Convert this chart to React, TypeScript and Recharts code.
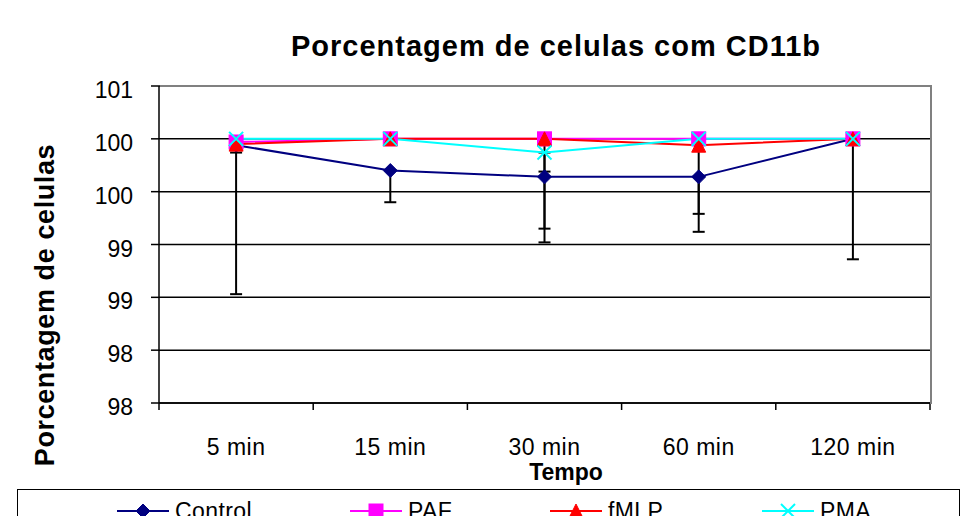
import React from 'react';
import { LineChart, Line, XAxis, YAxis, CartesianGrid, ErrorBar } from 'recharts';

// Excel style chart: % of cells with CD11b over time
const categories = ['5 min', '15 min', '30 min', '60 min', '120 min'];

const control = [99.94, 99.7, 99.64, 99.64, 100.0];
const paf = [99.97, 100.0, 100.0, 100.0, 100.0];
const fmlp = [99.95, 100.0, 100.0, 99.94, 100.0];
const pma = [100.0, 100.0, 99.87, 100.0, 100.0];

// error bars go down only (minus direction)
const controlErr = [1.41, 0.3, 0.62, 0.35, 1.14];
const fmlpErr = [0.08, null, 0.85, 0.82, null];
const pmaErr = [null, null, 0.18, null, null];

const yTicks = [97.5, 98, 98.5, 99, 99.5, 100, 100.5];

const W = 969;
const H = 524;
const PLOT_LEFT = 159;
const PLOT_RIGHT = 930;
const PLOT_TOP = 86;
const PLOT_BOTTOM = 403;
const BAND = (PLOT_RIGHT - PLOT_LEFT) / categories.length;
const FONT = '"Liberation Sans", Arial, sans-serif';

const series = [
  { key: 'control', name: 'Control', color: '#000080', shape: 'diamond' },
  { key: 'paf', name: 'PAF', color: '#FF00FF', shape: 'square' },
  { key: 'fmlp', name: 'fMLP', color: '#FF0000', shape: 'triangle' },
  { key: 'pma', name: 'PMA', color: '#00FFFF', shape: 'cross' },
];

const data = categories.map((c, i) => ({
  tempo: c,
  control: control[i],
  paf: paf[i],
  fmlp: fmlp[i],
  pma: pma[i],
  controlErr: controlErr[i] == null ? null : [controlErr[i], 0],
  fmlpErr: fmlpErr[i] == null ? null : [fmlpErr[i], 0],
  pmaErr: pmaErr[i] == null ? null : [pmaErr[i], 0],
}));

function Marker({ shape, color, cx, cy }: { shape: string; color: string; cx: number; cy: number }) {
  const s = 7;
  if (shape === 'diamond')
    return <polygon points={`${cx},${cy - s} ${cx + s},${cy} ${cx},${cy + s} ${cx - s},${cy}`} fill={color} stroke={color} />;
  if (shape === 'square')
    return <rect x={cx - s} y={cy - s} width={2 * s} height={2 * s} fill={color} stroke={color} />;
  if (shape === 'triangle')
    return <polygon points={`${cx},${cy - s} ${cx + s},${cy + s} ${cx - s},${cy + s}`} fill={color} stroke={color} />;
  return (
    <g stroke={color} strokeWidth={2}>
      <line x1={cx - s} y1={cy - s} x2={cx + s} y2={cy + s} />
      <line x1={cx - s} y1={cy + s} x2={cx + s} y2={cy - s} />
    </g>
  );
}

const XTick = (props: any) => {
  const { x, y, payload, index } = props;
  return (
    <g>
      <line x1={x - BAND / 2} y1={y} x2={x - BAND / 2} y2={y + 7} stroke="#000" strokeWidth={1.5} />
      {index === categories.length - 1 && (
        <line x1={x + BAND / 2} y1={y} x2={x + BAND / 2} y2={y + 7} stroke="#000" strokeWidth={1.5} />
      )}
      <text x={x} y={y + 52} textAnchor="middle" fontSize={23} fontFamily={FONT} fill="#000" letterSpacing={0.5}>
        {payload.value}
      </text>
    </g>
  );
};

const YTick = (props: any) => {
  const { x, y, payload } = props;
  return (
    <text x={x} y={y + 12} textAnchor="end" fontSize={23} fontFamily={FONT} fill="#000">
      {Math.round(payload.value)}
    </text>
  );
};

export default function App() {
  return (
    <div style={{ position: 'relative', width: W, height: H, margin: -8, overflow: 'hidden', background: '#fff', fontFamily: FONT }}>
      <div style={{ position: 'absolute', left: 6, top: 6, width: 959, height: 540, border: '1.5px solid #000' }} />
      <div
        style={{
          position: 'absolute',
          left: 0,
          width: 1112,
          top: 30,
          textAlign: 'center',
          fontSize: 29,
          fontWeight: 'bold',
          letterSpacing: 1.0,
        }}
      >
        Porcentagem de celulas com CD11b
      </div>
      <LineChart
        width={W}
        height={H}
        data={data}
        margin={{ top: PLOT_TOP, right: W - PLOT_RIGHT, left: PLOT_LEFT - 60, bottom: H - PLOT_BOTTOM - 30 }}
      >
        <CartesianGrid vertical={false} stroke="#000" strokeWidth={1.5} />
        <XAxis
          dataKey="tempo"
          height={30}
          padding={{ left: BAND / 2, right: BAND / 2 }}
          tickLine={false}
          tickSize={0}
          tickMargin={0}
          tick={<XTick />}
          axisLine={{ stroke: '#000', strokeWidth: 1.5 }}
          interval={0}
        />
        <YAxis
          width={60}
          domain={[97.5, 100.5]}
          ticks={yTicks}
          tickSize={8}
          tickMargin={18}
          tick={<YTick />}
          tickLine={{ stroke: '#000', strokeWidth: 1.5 }}
          axisLine={{ stroke: '#000', strokeWidth: 1.5 }}
          allowDataOverflow
        />
        {series.map((s) => (
          <Line
            key={s.key}
            dataKey={s.key}
            name={s.name}
            stroke={s.color}
            strokeWidth={2}
            isAnimationActive={false}
            dot={(p: any) => <Marker key={`${s.key}-${p.index}`} shape={s.shape} color={s.color} cx={p.cx} cy={p.cy} />}
          >
            {s.key !== 'paf' && (
              <ErrorBar dataKey={`${s.key}Err`} direction="y" width={6} stroke="#000" strokeWidth={2} />
            )}
          </Line>
        ))}
      </LineChart>
      {/* gray plot-area frame on top and right, like Excel */}
      <div
        style={{
          position: 'absolute',
          left: PLOT_LEFT + 1,
          top: PLOT_TOP - 1,
          width: PLOT_RIGHT - PLOT_LEFT - 1,
          height: PLOT_BOTTOM - PLOT_TOP,
          borderTop: '2px solid #808080',
          borderRight: '2px solid #808080',
          pointerEvents: 'none',
        }}
      />
      <div
        style={{
          position: 'absolute',
          left: 45,
          top: 305,
          transform: 'translate(-50%, -50%) rotate(-90deg)',
          whiteSpace: 'nowrap',
          fontSize: 27,
          fontWeight: 'bold',
          letterSpacing: 0.6,
        }}
      >
        Porcentagem de celulas
      </div>
      <div style={{ position: 'absolute', left: 566, top: 472, transform: 'translate(-50%, -50%)', fontSize: 23, fontWeight: 'bold' }}>
        Tempo
      </div>
      <div style={{ position: 'absolute', left: 17, top: 489, width: 941, height: 60, border: '1.5px solid #000' }} />
      {series.map((s, i) => (
        <div key={s.key} style={{ position: 'absolute', left: [117, 350, 550, 762][i], top: 497, display: 'flex', alignItems: 'center' }}>
          <svg width={52} height={28}>
            <line x1={0} y1={14} x2={52} y2={14} stroke={s.color} strokeWidth={2} />
            <Marker shape={s.shape} color={s.color} cx={26} cy={14} />
          </svg>
          <span style={{ fontSize: 23, marginLeft: 6, letterSpacing: 0.4 }}>{s.name}</span>
        </div>
      ))}
    </div>
  );
}
